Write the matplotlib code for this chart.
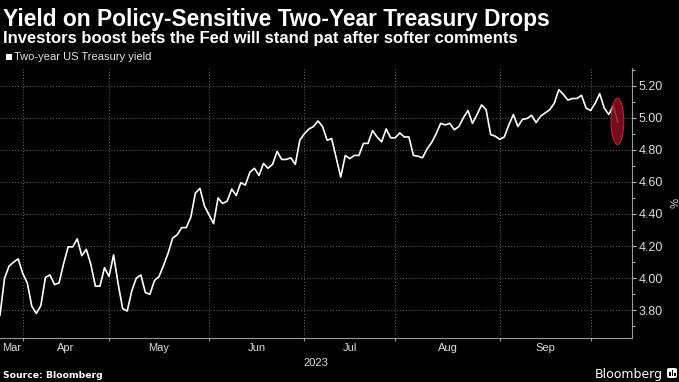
import numpy as np
import pandas as pd
import matplotlib
matplotlib.use("Agg")
import matplotlib.pyplot as plt
from matplotlib.patches import Ellipse, Rectangle, FancyBboxPatch

plt.rcParams["font.family"] = ["Liberation Sans", "DejaVu Sans"]

# trading days, bond market holidays left out
start_date = "2023-03-24"
end_date = "2023-10-10"
holidays = ["2023-04-07", "2023-05-29", "2023-06-19", "2023-07-04", "2023-09-04", "2023-10-09"]

# two-year yield, %
yields = [
    3.77, 4.00, 4.075, 4.10, 4.12, 4.03, 3.97, 3.825, 3.78, 3.83,
    4.005, 4.02, 3.96, 3.97, 4.09, 4.195, 4.195, 4.245, 4.14, 4.18,
    4.085, 3.95, 3.95, 4.065, 4.01, 4.145, 3.965, 3.81, 3.795, 3.92,
    4.00, 4.02, 3.91, 3.90, 3.985, 4.01, 4.08, 4.155, 4.25, 4.27,
    4.315, 4.315, 4.38, 4.53, 4.56, 4.45, 4.395, 4.34, 4.50, 4.465,
    4.48, 4.555, 4.515, 4.595, 4.58, 4.66, 4.685, 4.64, 4.715, 4.685,
    4.71, 4.79, 4.74, 4.74, 4.75, 4.71, 4.86, 4.90, 4.93, 4.945,
    4.98, 4.945, 4.86, 4.87, 4.75, 4.63, 4.765, 4.745, 4.765, 4.765,
    4.84, 4.84, 4.92, 4.88, 4.85, 4.93, 4.875, 4.875, 4.905, 4.88,
    4.88, 4.765, 4.76, 4.75, 4.805, 4.845, 4.90, 4.965, 4.955, 4.965,
    4.925, 4.945, 5.00, 5.045, 4.965, 5.02, 5.08, 5.05, 4.895, 4.885,
    4.865, 4.88, 4.955, 5.02, 4.945, 4.99, 4.995, 5.015, 4.97, 5.01,
    5.03, 5.05, 5.09, 5.175, 5.145, 5.11, 5.12, 5.12, 5.14, 5.06,
    5.045, 5.09, 5.15, 5.06, 5.02, 5.075, 4.97,
]

y_ticks = [3.8, 4.0, 4.2, 4.4, 4.6, 4.8, 5.0, 5.2]

title = "Yield on Policy-Sensitive Two-Year Treasury Drops"
subtitle = "Investors boost bets the Fed will stand pat after softer comments"
series_name = "Two-year US Treasury yield"
source = "Source: Bloomberg"

dates = pd.bdate_range(start_date, end_date, freq="C", holidays=holidays)
x = np.arange(len(dates))

months = dates.to_period("M")
month_end = [i for i in range(len(dates) - 1) if months[i] != months[i + 1]]
edges = [0] + month_end
label_pos = [(a + b) / 2 for a, b in zip(edges[:-1], edges[1:])]
label_txt = [dates[e].strftime("%b") for e in month_end]

W, H = 679, 382
fig = plt.figure(figsize=(W / 100, H / 100), dpi=100, facecolor="black")
ax = fig.add_axes([0, 1 - 337.5 / H, 631.5 / W, (337.5 - 68) / H])
ax.set_facecolor("black")

ax.plot(x, yields, color="white", lw=1.2, zorder=3)

# highlight on the latest drop
ax.add_patch(Ellipse((x[-1] - 0.1, 4.977), 2.8, 0.29, facecolor="#8a0c22",
                     edgecolor="#c42a40", lw=0.8, alpha=0.85, zorder=4))

ax.set_xlim(0, 139)
ax.set_ylim(3.63, 5.31)

ax.set_xticks(month_end)
ax.set_xticklabels([])
ax.set_xticks(label_pos, minor=True)
ax.set_xticklabels(label_txt, minor=True)
ax.tick_params(axis="x", which="major", length=2.5, color="#9a9a9a", width=0.8)
ax.tick_params(axis="x", which="minor", length=0, pad=4, labelsize=8, labelcolor="#dcdcdc")

ax.yaxis.tick_right()
ax.set_yticks(y_ticks)
ax.set_yticklabels([f"{v:.2f}" for v in y_ticks])
ax.set_yticks([v + 0.1 for v in y_ticks[:-1]] + [3.7, 5.3], minor=True)
ax.tick_params(axis="y", which="major", length=3, width=0.8, color="#bdbdbd",
               pad=2, labelsize=9, labelcolor="#dcdcdc")
ax.tick_params(axis="y", which="minor", length=2, width=0.8, color="#bdbdbd")

ax.grid(axis="y", which="major", color="#6a6a6a", ls=(0, (1, 2)), lw=0.7)
ax.grid(axis="x", which="major", color="#6a6a6a", ls=(0, (1, 2)), lw=0.7)

for side in ["left", "top"]:
    ax.spines[side].set_visible(False)
for side in ["right", "bottom"]:
    ax.spines[side].set_color("#9a9a9a")
    ax.spines[side].set_linewidth(0.8)

ax.text(0.5, -0.105, "2023", transform=ax.transAxes, ha="center", va="baseline",
        fontsize=8, color="#dcdcdc")

fig.text(672 / W, 1 - 203 / H, "%", rotation=270, ha="center", va="center",
         fontsize=8, color="#dcdcdc")

# header
fig.text(3 / W, 1 - 26 / H, title, fontsize=16.4, fontweight="bold", color="white", va="baseline")
fig.text(3 / W, 1 - 42.5 / H, subtitle, fontsize=12, fontweight="bold", color="white", va="baseline")
fig.add_artist(Rectangle((6 / W, 1 - 60 / H), 6 / W, 6 / H, transform=fig.transFigure,
                         facecolor="white", edgecolor="none"))
fig.text(13.5 / W, 1 - 57 / H, series_name, fontsize=8, color="#e6e6e6", va="center")

# footer
fig.text(3 / W, 1 - 378 / H, source, fontsize=6.7, fontweight="bold", color="white",
         va="baseline", family="DejaVu Sans")
fig.text(663 / W, 1 - 378 / H, "Bloomberg", fontsize=9, color="white", ha="right",
         va="baseline", family="DejaVu Sans")
fig.add_artist(FancyBboxPatch((667 / W, 1 - 378 / H), 10 / W, 10 / H,
                              boxstyle="round,pad=0,rounding_size=0.004",
                              transform=fig.transFigure, facecolor="white", edgecolor="none"))
for bx, bh in [(669, 4), (671.5, 6), (674, 3)]:
    fig.add_artist(Rectangle((bx / W, 1 - 376 / H), 1.5 / W, bh / H, transform=fig.transFigure,
                             facecolor="black", edgecolor="none"))

fig.savefig("out.png", dpi=100, facecolor="black")
